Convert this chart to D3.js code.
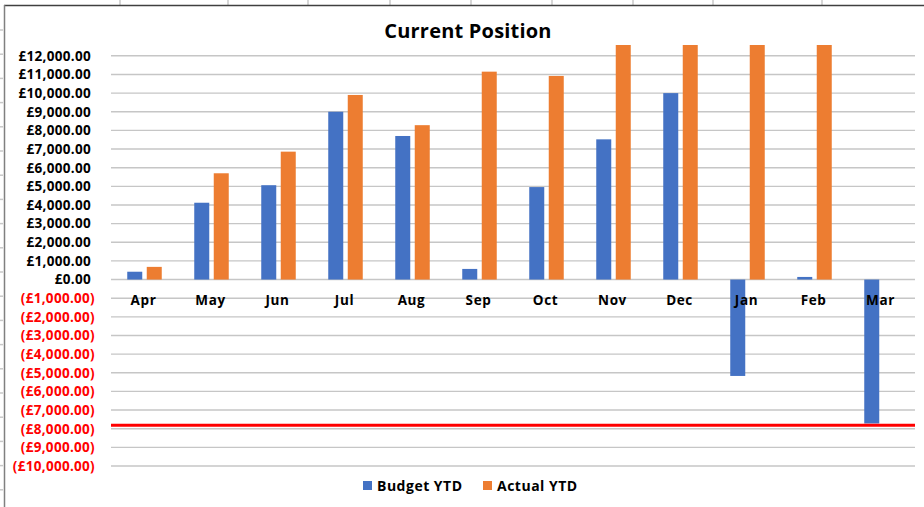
<!DOCTYPE html>
<html><head><meta charset="utf-8">
<script src="https://cdn.jsdelivr.net/npm/d3@7"></script>
<style>body{margin:0;background:#fff}svg{display:block;font-family:"Open Sans",sans-serif}</style>
</head><body><svg id="c" width="924" height="507"></svg>
<script>
const months = ["Apr","May","Jun","Jul","Aug","Sep","Oct","Nov","Dec","Jan","Feb","Mar"];
const budgetYTD = [420, 4120, 5060, 9000, 7700, 570, 4960, 7520, 10000, -5170, 140, -7720];
const actualYTD = [680, 5700, 6860, 9900, 8280, 11150, 10920, 13200, 13800, 14300, 14900, 0];
const seriesNames = ["Budget YTD", "Actual YTD"];
const seriesColors = ["#4472C4", "#ED7D31"];
const yTicks = [-10000,-9000,-8000,-7000,-6000,-5000,-4000,-3000,-2000,-1000,0,1000,2000,3000,4000,5000,6000,7000,8000,9000,10000,11000,12000];
const threshold = -7820;

const svg = d3.select("#c");
const L = 111, R = 915;
const y = d3.scaleLinear().domain([-10000, 12580]).range([466, 45]);
const x = d3.scaleBand().domain(months).range([L, R]).paddingInner(0).paddingOuter(0);

// spreadsheet background bits
const colLines = [120, 228, 308, 390, 471, 552, 633, 713, 822];
svg.selectAll(".col").data(colLines).join("line")
  .attr("x1", d => d).attr("x2", d => d).attr("y1", 0).attr("y2", 5)
  .attr("stroke", "#c8c8c8").attr("stroke-width", 1.5);
for (let r = 30; r < 507; r += 24.2) {
  svg.append("line").attr("x1", 0).attr("x2", 3).attr("y1", r).attr("y2", r)
    .attr("stroke", "#c8c8c8").attr("stroke-width", 1.5);
}
// chart frame
svg.append("line").attr("x1", 4).attr("x2", 924).attr("y1", 5.5).attr("y2", 5.5).attr("stroke", "#404040").attr("stroke-width", 1.5);
svg.append("line").attr("x1", 4.5).attr("x2", 4.5).attr("y1", 5).attr("y2", 507).attr("stroke", "#808080").attr("stroke-width", 1.5);

// title
svg.append("text").attr("x", 468).attr("y", 38).attr("text-anchor", "middle")
  .attr("font-size", 20).attr("font-weight", 700).attr("letter-spacing", 0.2).attr("fill", "#000").text("Current Position");

// gridlines
svg.append("g").selectAll("line").data(yTicks).join("line")
  .attr("x1", L).attr("x2", R).attr("y1", d => y(d)).attr("y2", d => y(d))
  .attr("stroke", "#c6c6c6").attr("stroke-width", 1.4);

// y labels
const fmt = d3.format(",.2f");
svg.append("g").selectAll("text").data(yTicks).join("text")
  .attr("x", d => d < 0 ? 95 : 91).attr("y", d => y(d)).attr("dy", "0.36em")
  .attr("text-anchor", "end").attr("font-size", 13.5).attr("font-weight", 700).attr("letter-spacing", 0.3)
  .attr("fill", d => d < 0 ? "#FF0000" : "#000")
  .text(d => d < 0 ? "(£" + fmt(-d) + ")" : "£" + fmt(d));

// bars
const bw = 15, gap = 4.5;
const y0 = y(0);
const clampY = v => Math.max(y(v), 45);
const g = svg.append("g");
[budgetYTD, actualYTD].forEach((vals, si) => {
  g.selectAll(".s" + si).data(months.map((m, i) => ({m, v: vals[i]}))).join("rect")
    .attr("x", d => x(d.m) + x.bandwidth()/2 + (si === 0 ? -gap/2 - bw : gap/2))
    .attr("width", bw)
    .attr("y", d => d.v >= 0 ? clampY(d.v) : y0)
    .attr("height", d => Math.abs((d.v >= 0 ? clampY(d.v) : y(d.v)) - y0))
    .attr("fill", seriesColors[si]);
});

// x labels
svg.append("g").selectAll("text").data(months).join("text")
  .attr("x", d => x(d) + x.bandwidth()/2 - 1).attr("y", 305)
  .attr("text-anchor", "middle").attr("font-size", 13.5).attr("font-weight", 700).attr("letter-spacing", 0.6)
  .attr("fill", "#000").text(d => d);

// threshold line
svg.append("line").attr("x1", L).attr("x2", R).attr("y1", y(threshold)).attr("y2", y(threshold))
  .attr("stroke", "#FF0000").attr("stroke-width", 3);

// legend
const lg = svg.append("g");
const lx = [363, 483];
seriesNames.forEach((n, i) => {
  lg.append("rect").attr("x", lx[i]).attr("y", 481).attr("width", 9).attr("height", 9).attr("fill", seriesColors[i]);
  lg.append("text").attr("x", lx[i] + 14).attr("y", 490.5).attr("font-size", 14).attr("font-weight", 700).attr("letter-spacing", 0.5)
    .attr("fill", "#000").text(n);
});
</script></body></html>
